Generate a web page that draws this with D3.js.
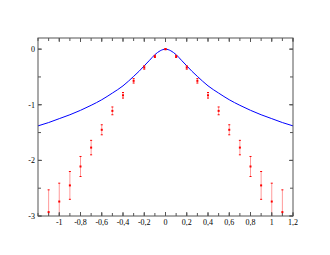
<!DOCTYPE html>
<html>
<head>
<script src="https://d3js.org/d3.v7.min.js"></script>
<style>
  body { margin: 0; background: #fff; }
  text { font-family: "Liberation Serif", "DejaVu Serif", serif; font-size: 8px; fill: #000; }
</style>
</head>
<body>
<svg width="330" height="255"></svg>
<script>
// measured points with error bars
var xPoints = [-1.1, -1.0, -0.9, -0.8, -0.7, -0.6, -0.5, -0.4, -0.3, -0.2, -0.1, 0,
               0.1, 0.2, 0.3, 0.4, 0.5, 0.6, 0.7, 0.8, 0.9, 1.0, 1.1];
var yPoints = [-2.93, -2.74, -2.45, -2.11, -1.77, -1.45, -1.11, -0.83, -0.57, -0.33, -0.13, 0,
               -0.13, -0.33, -0.57, -0.83, -1.11, -1.45, -1.77, -2.11, -2.45, -2.74, -2.93];
var yErrors = [0.40, 0.33, 0.25, 0.18, 0.13, 0.09, 0.07, 0.05, 0.04, 0.03, 0.02, 0.01,
               0.02, 0.03, 0.04, 0.05, 0.07, 0.09, 0.13, 0.18, 0.25, 0.33, 0.40];

// blue curve
var xCurve = [-1.2, -1.1, -1.0, -0.9, -0.8, -0.7, -0.6, -0.5, -0.4, -0.3, -0.25, -0.2, -0.15, -0.1, -0.05, 0,
              0.05, 0.1, 0.15, 0.2, 0.25, 0.3, 0.4, 0.5, 0.6, 0.7, 0.8, 0.9, 1.0, 1.1, 1.2];
var yCurve = [-1.38, -1.32, -1.25, -1.18, -1.10, -1.01, -0.91, -0.79, -0.66, -0.49, -0.40, -0.30, -0.20, -0.10, -0.03, 0,
              -0.03, -0.10, -0.20, -0.30, -0.40, -0.49, -0.66, -0.79, -0.91, -1.01, -1.10, -1.18, -1.25, -1.32, -1.38];

var xTicks = [-1, -0.8, -0.6, -0.4, -0.2, 0, 0.2, 0.4, 0.6, 0.8, 1, 1.2];
var yTicks = [-3, -2, -1, 0];

var mLeft = 38, mRight = 293, mTop = 38, mBottom = 216;
var x = d3.scaleLinear().domain([-1.2, 1.2]).range([mLeft, mRight]);
var y = d3.scaleLinear().domain([-3, 0.2]).range([mBottom, mTop]);

var svg = d3.select('svg');
var fmt = function(d) { return String(d).replace('.', ','); };

svg.append('clipPath').attr('id', 'clip')
  .append('rect').attr('x', mLeft).attr('y', mTop)
  .attr('width', mRight - mLeft).attr('height', mBottom - mTop);

var plot = svg.append('g').attr('clip-path', 'url(#clip)');

// curve
plot.append('path')
  .datum(d3.range(xCurve.length))
  .attr('fill', 'none')
  .attr('stroke', '#0000ff')
  .attr('stroke-width', 1)
  .attr('d', d3.line()
    .x(function(i) { return x(xCurve[i]); })
    .y(function(i) { return y(yCurve[i]); })
    .curve(d3.curveMonotoneX));

// error bars
var pts = plot.selectAll('g.pt').data(d3.range(xPoints.length)).enter().append('g');
pts.append('line')
  .attr('x1', function(i) { return x(xPoints[i]); })
  .attr('x2', function(i) { return x(xPoints[i]); })
  .attr('y1', function(i) { return y(yPoints[i] + yErrors[i]); })
  .attr('y2', function(i) { return y(yPoints[i] - yErrors[i]); })
  .attr('stroke', 'rgba(255,0,0,0.4)').attr('stroke-width', 1);
[1, -1].forEach(function(s) {
  pts.append('line')
    .attr('x1', function(i) { return x(xPoints[i]) - 1; })
    .attr('x2', function(i) { return x(xPoints[i]) + 1; })
    .attr('y1', function(i) { return y(yPoints[i] + s * yErrors[i]); })
    .attr('y2', function(i) { return y(yPoints[i] + s * yErrors[i]); })
    .attr('stroke', '#ff0000').attr('stroke-width', 1);
});
pts.append('rect')
  .attr('x', function(i) { return x(xPoints[i]) - 1; })
  .attr('y', function(i) { return y(yPoints[i]) - 1; })
  .attr('width', 2).attr('height', 2)
  .attr('fill', '#ff0000');

// frame and ticks
var axisColor = '#555';
svg.append('rect').attr('x', mLeft).attr('y', mTop)
  .attr('width', mRight - mLeft).attr('height', mBottom - mTop)
  .attr('fill', 'none').attr('stroke', axisColor).attr('stroke-width', 1);

var xMinor = d3.range(-12, 13).map(function(k) { return k / 10; });
var yMinor = d3.range(-6, 1).map(function(k) { return k / 2; });

function tickLines(vals, len, horizontal) {
  vals.forEach(function(v) {
    if (horizontal) {
      svg.append('line').attr('x1', x(v)).attr('x2', x(v)).attr('y1', mBottom).attr('y2', mBottom - len)
        .attr('stroke', axisColor);
      svg.append('line').attr('x1', x(v)).attr('x2', x(v)).attr('y1', mTop).attr('y2', mTop + len)
        .attr('stroke', axisColor);
    } else {
      svg.append('line').attr('x1', mLeft).attr('x2', mLeft + len).attr('y1', y(v)).attr('y2', y(v))
        .attr('stroke', axisColor);
      svg.append('line').attr('x1', mRight).attr('x2', mRight - len).attr('y1', y(v)).attr('y2', y(v))
        .attr('stroke', axisColor);
    }
  });
}
tickLines(xMinor, 3, true);
tickLines(xTicks, 4, true);
tickLines(yMinor, 3, false);
tickLines(yTicks, 4, false);

svg.selectAll('text.xl').data(xTicks).enter().append('text')
  .attr('x', function(d) { return x(d); })
  .attr('y', mBottom + 9)
  .attr('text-anchor', 'middle')
  .text(fmt);

svg.selectAll('text.yl').data(yTicks).enter().append('text')
  .attr('x', mLeft - 3)
  .attr('y', function(d) { return y(d) + 3; })
  .attr('text-anchor', 'end')
  .text(fmt);
</script>
</body>
</html>
